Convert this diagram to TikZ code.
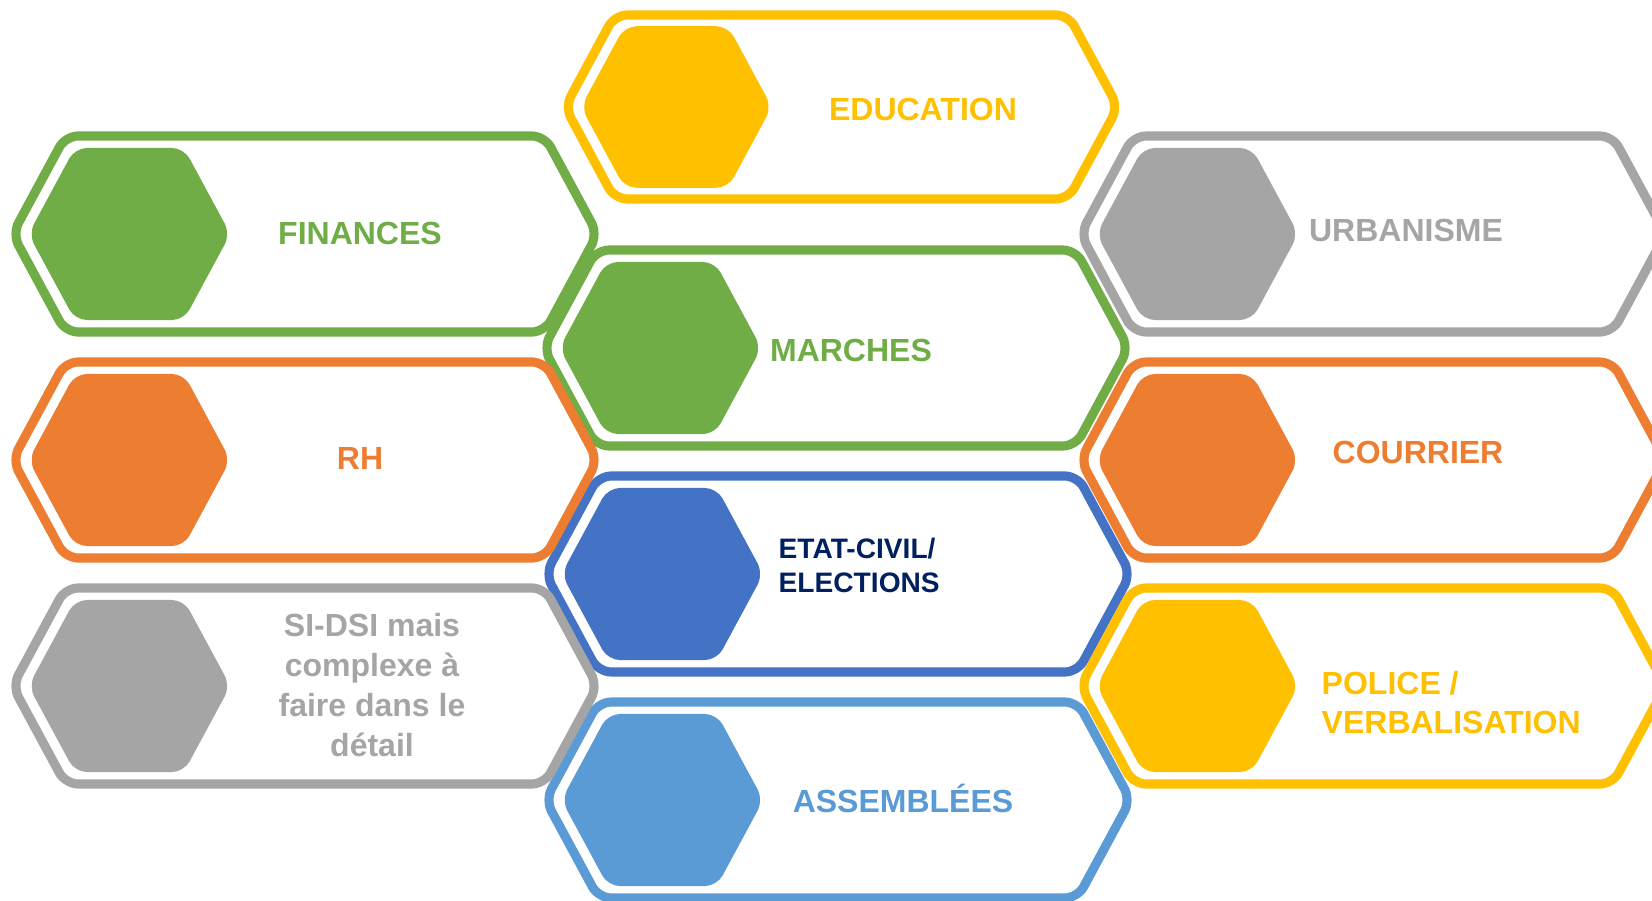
\documentclass[tikz,border=0pt]{standalone}
\usepackage{fontspec}
\setmainfont{Liberation Sans}
\definecolor{cvert}{RGB}{112,173,71}
\definecolor{corange}{RGB}{237,125,49}
\definecolor{cgris}{RGB}{165,165,165}
\definecolor{cjaune}{RGB}{255,192,0}
\definecolor{cbleu}{RGB}{68,114,196}
\definecolor{cazur}{RGB}{91,155,213}
\definecolor{cmarine}{RGB}{0,32,96}
\tikzset{
  bord/.style={line width=2.6pt, rounded corners=3.6pt, fill=white},
  plein/.style={rounded corners=3.4pt},
  etiq/.style={font=\fontsize{9.1}{11.3}\selectfont\bfseries, inner sep=0pt}
}
% #1 x pointe gauche, #2 y centre, #3 largeur, #4 hauteur, #5 couleur
\newcommand{\alveole}[5]{
  \draw[bord, draw=#5] (#1+#3/2, #2-#4/2) -- (#1+#3-0.27*#4, #2-#4/2)
    -- (#1+#3, #2) -- (#1+#3-0.27*#4, #2+#4/2) -- (#1+0.27*#4, #2+#4/2)
    -- (#1, #2) -- (#1+0.27*#4, #2-#4/2) -- cycle;
  \fill[plein, #5] (#1+16+0.2*#3, #2-0.439*#4)
    -- (#1+16+0.345*#3-0.237*#4, #2-0.439*#4) -- (#1+16+0.345*#3, #2)
    -- (#1+16+0.345*#3-0.237*#4, #2+0.439*#4) -- (#1+16+0.237*#4, #2+0.439*#4)
    -- (#1+16, #2) -- (#1+16+0.237*#4, #2-0.439*#4) -- cycle;
}
\newcommand{\grand}[3]{\alveole{#1}{#2}{585}{196}{#3}}

\begin{document}
\begin{tikzpicture}[x=0.01cm, y=-0.01cm]
  \useasboundingbox (0,0) rectangle (1652,900);
  \clip (0,0) rectangle (1652,900);

  % COLONNE CENTRALE
  % ================

  \alveole{565}{107}{553}{184}{cjaune}
  \grand{543.5}{348}{cvert}
  \grand{545.5}{574}{cbleu}
  \grand{545.5}{800}{cazur}

  % COLONNES GAUCHE / DROITE
  % ========================

  \grand{12.5}{234}{cvert}
  \grand{12.5}{460}{corange}
  \grand{12.5}{686}{cgris}

  \grand{1080.5}{234}{cgris}
  \grand{1080.5}{460}{corange}
  \grand{1080.5}{686}{cjaune}

  % Textes
  % ------

  \node[etiq, cjaune, anchor=base] (education) at (923,120.5) {EDUCATION};
  \node[etiq, cvert, anchor=base] (finances) at (360,244.5) {FINANCES};
  \node[etiq, cgris, anchor=base] (urbanisme) at (1406,241.5) {URBANISME};
  \node[etiq, cvert, anchor=base] (marches) at (851,361.5) {MARCHES};
  \node[etiq, corange, anchor=base] (rh) at (360,469.5) {RH};
  \node[etiq, corange, anchor=base] (courrier) at (1418,463.5) {COURRIER};
  \node[etiq, cazur, anchor=base] (assemblees) at (903,812.5) {ASSEMBLÉES};

  \node[etiq, cgris, align=center] (sidsi) at (372,685)
    {SI-DSI mais\\complexe à\\faire dans le\\détail};
  \node[etiq, cmarine, anchor=west, align=left,
    font=\fontsize{8}{9.7}\selectfont\bfseries] (etatcivil) at (778,565)
    {ETAT-CIVIL/\\ELECTIONS};
  \node[etiq, cjaune, anchor=west, align=left,
    font=\fontsize{9.1}{11.1}\selectfont\bfseries] (police) at (1321,703)
    {POLICE /\\VERBALISATION};

\end{tikzpicture}
\end{document}
